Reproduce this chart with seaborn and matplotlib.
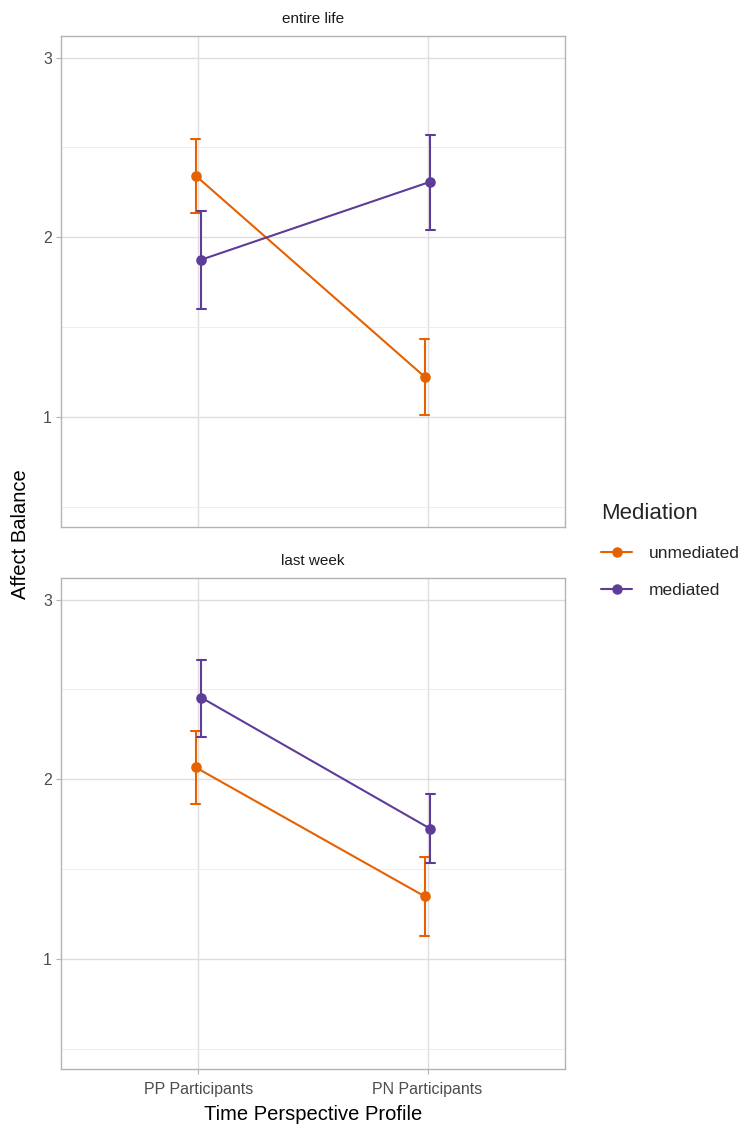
import numpy as np
import pandas as pd
import seaborn as sns
import matplotlib
matplotlib.use("Agg")
import matplotlib.pyplot as plt
from matplotlib.lines import Line2D

# ---- data ----
facets = ["entire life", "last week"]
profiles = ["PP Participants", "PN Participants"]
mediation = ["unmediated", "mediated"]

entire_unmed_mean = [2.343, 1.223]
entire_unmed_lo = [2.136, 1.011]
entire_unmed_hi = [2.549, 1.435]
entire_med_mean = [1.875, 2.309]
entire_med_lo = [1.600, 2.042]
entire_med_hi = [2.148, 2.571]

week_unmed_mean = [2.066, 1.348]
week_unmed_lo = [1.862, 1.129]
week_unmed_hi = [2.270, 1.568]
week_med_mean = [2.454, 1.724]
week_med_lo = [2.237, 1.535]
week_med_hi = [2.666, 1.915]

colors = ["#E66101", "#5E3C99"]

rows = []
series = {
    ("entire life", "unmediated"): (entire_unmed_mean, entire_unmed_lo, entire_unmed_hi),
    ("entire life", "mediated"): (entire_med_mean, entire_med_lo, entire_med_hi),
    ("last week", "unmediated"): (week_unmed_mean, week_unmed_lo, week_unmed_hi),
    ("last week", "mediated"): (week_med_mean, week_med_lo, week_med_hi),
}
for (fac, med), (m, lo, hi) in series.items():
    for i, p in enumerate(profiles):
        for v in (lo[i], m[i], hi[i]):
            rows.append({"facet": fac, "Mediation": med, "profile": p, "value": v})
df = pd.DataFrame(rows)

sns.set_theme(style="white")
plt.rcParams["font.family"] = ["Liberation Sans", "DejaVu Sans"]

W, H = 749, 1132
fig = plt.figure(figsize=(W / 100, H / 100), dpi=100)
L, R = 61, 565
panels = [(36, 527), (578, 1069)]

grid_c = "#DEDEDE"
border_c = "#B3B3B3"

for k, (fac, (top, bot)) in enumerate(zip(facets, panels)):
    ax = fig.add_axes([L / W, 1 - bot / H, (R - L) / W, (bot - top) / H])
    sub = df[df["facet"] == fac]
    sns.pointplot(
        data=sub, x="profile", y="value", hue="Mediation",
        order=profiles, hue_order=mediation, palette=colors,
        estimator="median", errorbar=lambda v: (v.min(), v.max()),
        dodge=0.025, capsize=0.04, markers="o", markersize=6.5,
        linewidth=1.5, err_kws={"linewidth": 1.5},
        legend=False, ax=ax,
    )
    ax.set_xlim(-0.6, 1.6)
    ax.set_ylim(0.387, 3.12)
    ax.set_yticks([1, 2, 3])
    ax.set_yticks([0.5, 1.5, 2.5], minor=True)
    ax.set_yticklabels(["1", "2", "3"])
    ax.grid(True, which="major", axis="both", color=grid_c, linewidth=1.0, zorder=0)
    ax.grid(True, which="minor", axis="y", color="#EBEBEB", linewidth=0.6, zorder=0)
    ax.grid(False, which="minor", axis="x")
    ax.set_axisbelow(True)
    for s in ax.spines.values():
        s.set_visible(True)
        s.set_color(border_c)
        s.set_linewidth(1.0)
    ax.tick_params(axis="y", which="major", length=3.5, width=0.8, color=border_c,
                   labelsize=11.5, labelcolor="#4D4D4D", pad=3, left=True)
    ax.tick_params(axis="y", which="minor", length=0)
    if k == 0:
        ax.tick_params(axis="x", length=0, labelbottom=False)
    else:
        ax.tick_params(axis="x", length=3.5, width=0.8, color=border_c,
                       labelsize=11.5, labelcolor="#4D4D4D", pad=6, bottom=True)
    ax.set_xlabel("")
    ax.set_ylabel("")
    ax.text(0.5, 1.0 + 17 / (bot - top), fac, transform=ax.transAxes,
            ha="center", va="center", fontsize=11, color="#1A1A1A")

fig.text(313 / W, 1 - 1114 / H, "Time Perspective Profile", ha="center", va="center",
         fontsize=14.5, color="black")
fig.text(21 / W, 1 - 534 / H, "Affect Balance", ha="center", va="center",
         rotation=90, fontsize=14.5, color="black")

handles = [Line2D([0], [0], color=c, marker="o", markersize=6.5, linewidth=1.5)
           for c in colors]
leg = fig.legend(handles, mediation, title="Mediation", loc="upper left",
                 bbox_to_anchor=(601 / W, 1 - 503 / H), frameon=False,
                 borderpad=0, borderaxespad=0,
                 fontsize=12.5, title_fontsize=16, handlelength=1.8,
                 handletextpad=0.95, labelspacing=1.27, alignment="left")

fig.savefig("out.png", dpi=100)
